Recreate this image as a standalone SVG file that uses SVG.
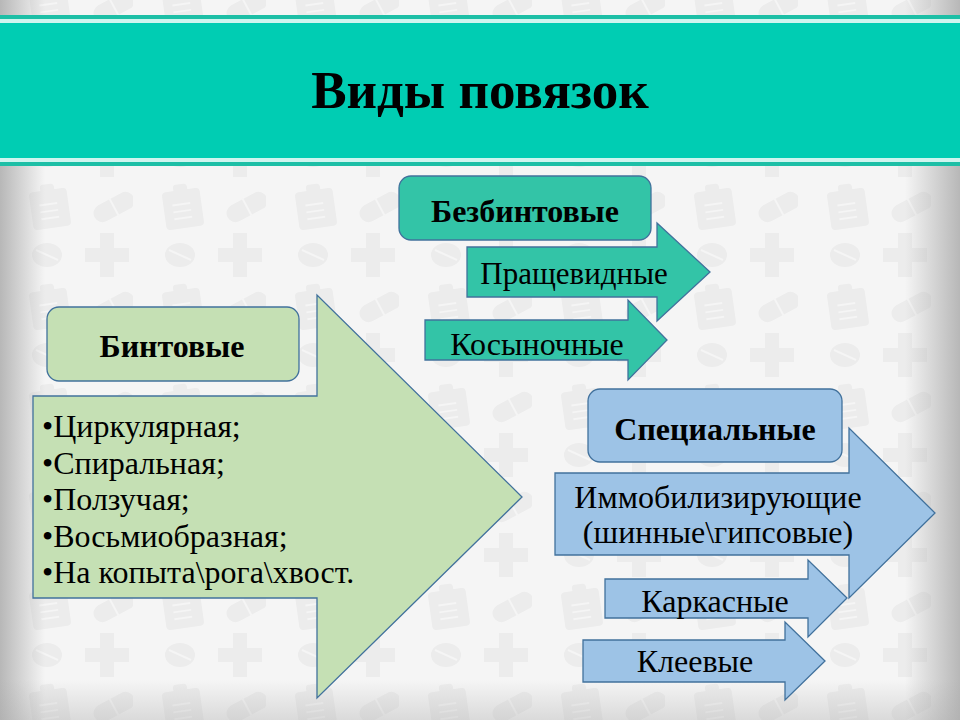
<svg xmlns="http://www.w3.org/2000/svg" width="960" height="720" viewBox="0 0 960 720">
<defs>
<style>
.ico{fill:#ECECEC}
.ln{stroke:#F5F5F5;stroke-width:2;fill:none}
.box{stroke:#41719C;stroke-width:1.3}
.arr{stroke:#41719C;stroke-width:1.3}
.teal{fill:#33C4A7}
.green{fill:#C5E0B4}
.blue{fill:#9DC3E6}
.b{font-weight:bold;fill:#000;text-anchor:middle}
.r{fill:#000}
</style>
<pattern id="pat" x="0" y="180" width="133" height="100" patternUnits="userSpaceOnUse">
<g class="ico">
<rect x="31" y="10" width="38" height="38" rx="4" transform="rotate(-8 50 29)"/>
<rect x="43" y="4" width="14" height="9" rx="3" transform="rotate(-8 50 29)"/>
<rect x="92" y="18" width="44" height="18" rx="9" transform="rotate(-28 114 27)"/>
<ellipse cx="47" cy="75" rx="15" ry="12"/>
<rect x="85" y="68" width="44" height="14"/>
<rect x="100" y="53" width="14" height="44"/>
</g>
<g class="ln">
<path d="M40 24h18M40 31h18M40 38h18" transform="rotate(-8 50 29)"/>
<path d="M114 17v20" transform="rotate(-28 114 27)"/>
<path d="M36 70l22 10"/>
</g>
</pattern>
<linearGradient id="lg" x1="0" y1="0" x2="1" y2="0">
<stop offset="0" stop-color="#A8A8A8" stop-opacity="0.8"/>
<stop offset="1" stop-color="#A8A8A8" stop-opacity="0"/>
</linearGradient>
<linearGradient id="rg" x1="1" y1="0" x2="0" y2="0">
<stop offset="0" stop-color="#A8A8A8" stop-opacity="0.8"/>
<stop offset="1" stop-color="#A8A8A8" stop-opacity="0"/>
</linearGradient>
<linearGradient id="bg" x1="0" y1="0" x2="0" y2="1">
<stop offset="0" stop-color="#A8A8A8" stop-opacity="0"/>
<stop offset="1" stop-color="#A8A8A8" stop-opacity="0.35"/>
</linearGradient>
</defs>

<g id="background">
<rect x="0" y="0" width="960" height="720" fill="#F5F5F5"/>
<rect x="0" y="0" width="960" height="720" fill="url(#pat)"/>
<rect x="0" y="0" width="45" height="720" fill="url(#lg)"/>
<rect x="905" y="0" width="55" height="720" fill="url(#rg)"/>
<rect x="0" y="680" width="960" height="40" fill="url(#bg)"/>
</g>

<g font-family="'Liberation Serif', Tinos, 'DejaVu Serif', serif">
<g id="header">
<rect x="0" y="15" width="960" height="151" fill="#1DBFA6"/>
<rect x="0" y="19" width="960" height="4" fill="#CFF5EF"/>
<rect x="0" y="23" width="960" height="135" fill="#00CDB3"/>
<rect x="0" y="158" width="960" height="4" fill="#CFF5EF"/>
<text x="480" y="108" class="b" font-size="53">Виды повязок</text>
</g>

<g id="connectors">
<g id="bintovye-arrow">
<path class="arr green" d="M33,396 H317 V295 L522,497 L317,698 V598 H33 Z"/>
<text class="r" font-size="32">
<tspan x="42" y="437">•Циркулярная;</tspan>
<tspan x="42" y="473.5">•Спиральная;</tspan>
<tspan x="42" y="510">•Ползучая;</tspan>
<tspan x="42" y="546.5">•Восьмиобразная;</tspan>
<tspan x="42" y="583">•На копыта\рога\хвост.</tspan>
</text>
</g>
</g>

<g id="node-bintovye">
<rect class="box green" x="47" y="307" width="252" height="74" rx="12"/>
<text x="172" y="357" class="b" font-size="32">Бинтовые</text>
</g>

<g id="node-bezbintovye">
<rect class="box teal" x="399" y="176" width="252" height="64" rx="12"/>
<text x="525" y="222" class="b" font-size="32">Безбинтовые</text>
</g>

<g id="node-prashchevidnye">
<path class="arr teal" d="M467,247 H657 V223 L710,272 L657,321 V297 H467 Z"/>
<text x="574" y="284" class="r" font-size="31" text-anchor="middle">Пращевидные</text>
</g>

<g id="node-kosynochnye">
<path class="arr teal" d="M425,320 H628 V300 L667,340 L628,380 V360 H425 Z"/>
<text x="537" y="355" class="r" font-size="32" text-anchor="middle">Косыночные</text>
</g>

<g id="node-immob">
<path class="arr blue" d="M555,473 H849 V428 L935,513 L849,598 V555 H555 Z"/>
<text class="r" font-size="32" text-anchor="middle">
<tspan x="722" y="508">Иммобилизирующие</tspan>
<tspan x="718" y="543">(шинные\гипсовые)</tspan>
</text>
</g>

<g id="node-specialnye">
<rect class="box blue" x="588" y="389" width="254" height="73" rx="12"/>
<text x="715" y="440" class="b" font-size="32">Специальные</text>
</g>

<g id="node-karkasnye">
<path class="arr blue" d="M605,579 H808 V560 L847,598 L808,637 V618 H605 Z"/>
<text x="715" y="612" class="r" font-size="32" text-anchor="middle">Каркасные</text>
</g>

<g id="node-kleevye">
<path class="arr blue" d="M583,640 H785 V622 L825,661 L785,700 V682 H583 Z"/>
<text x="695" y="672" class="r" font-size="32" text-anchor="middle">Клеевые</text>
</g>
</g>
</svg>
